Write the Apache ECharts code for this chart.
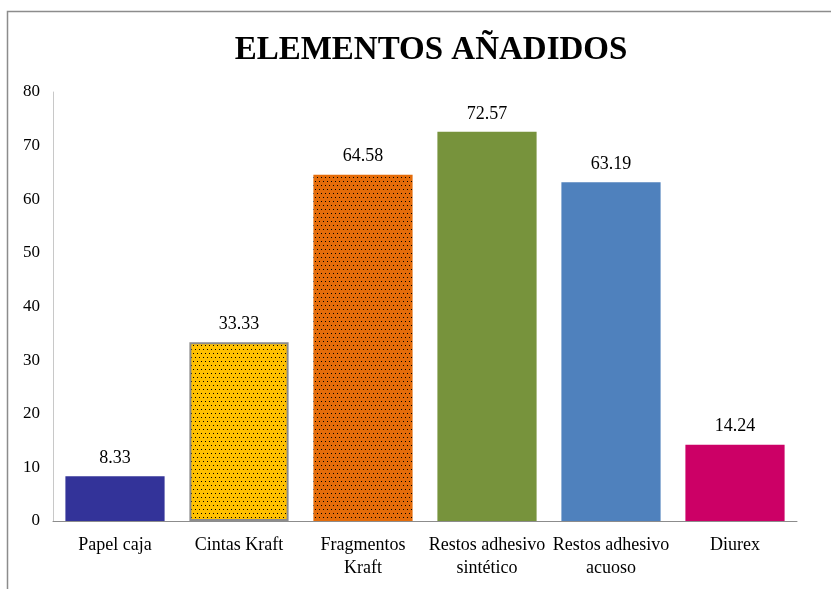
<!DOCTYPE html>
<html><head><meta charset="utf-8">
<script src="https://cdn.jsdelivr.net/npm/echarts@6/dist/echarts.min.js"></script>
<style>html,body{margin:0;padding:0;background:#fff}#c{width:831px;height:589px}</style>
</head><body><div id="c"></div>
<script>
const categories = ['Papel caja','Cintas Kraft','Fragmentos\nKraft','Restos adhesivo\nsintético','Restos adhesivo\nacuoso','Diurex'];
const values = [8.33, 33.33, 64.58, 72.57, 63.19, 14.24];
const yTicks = [0,10,20,30,40,50,60,70,80];
const colors = ['#333399','#FFC000','#E46C0A','#77933C','#4F81BD','#CC0066'];
const dotted = [false,true,true,false,false,false];

function pattern(bg){
  const c=document.createElement('canvas'); c.width=8; c.height=8;
  const g=c.getContext('2d'); g.fillStyle=bg; g.fillRect(0,0,8,8);
  g.fillStyle='#000';
  [[1,1],[5,1],[3,5],[7,5]].forEach(p=>g.fillRect(p[0],p[1],1,1));
  return {image:c, repeat:'repeat'};
}

const chart = echarts.init(document.getElementById('c'), null, {renderer:'canvas'});
chart.setOption({
  animation:false,
  backgroundColor:'#fff',
  title:{text:'ELEMENTOS AÑADIDOS', left:426, top:29, textAlign:'center',
    textStyle:{fontFamily:'Liberation Serif', fontSize:33, fontWeight:'bold', color:'#000'}},
  graphic:[{type:'rect', shape:{x:7.5,y:11.5,width:900,height:700}, style:{fill:'none',stroke:'#8c8c8c',lineWidth:1.5}, silent:true}],
  grid:{left:53, top:92, right:34, bottom:68},
  xAxis:{type:'category', data:categories,
    axisLine:{lineStyle:{color:'#8c8c8c'}}, axisTick:{show:false},
    axisLabel:{interval:0, fontFamily:'Liberation Serif', fontSize:18, color:'#000', margin:13, lineHeight:23}},
  yAxis:{type:'value', min:yTicks[0], max:yTicks[yTicks.length-1], interval:10,
    axisLine:{show:true, lineStyle:{color:'#c8c8c8'}}, axisTick:{show:false}, splitLine:{show:false},
    axisLabel:{fontFamily:'Liberation Serif', fontSize:17, color:'#000', margin:13}},
  series:[{type:'bar', barWidth:'80%',
    data: values.map((v,i)=>({value:v, itemStyle:{
      color: dotted[i]? pattern(colors[i]) : colors[i],
      borderColor: i===1 ? '#8c8c8c' : colors[i], borderWidth: i===1?2:0}})),
    label:{show:true, position:'top', distance:9, fontFamily:'Liberation Serif', fontSize:18, color:'#000',
      formatter:p=>p.value.toFixed(2)}
  }]
});
</script></body></html>
